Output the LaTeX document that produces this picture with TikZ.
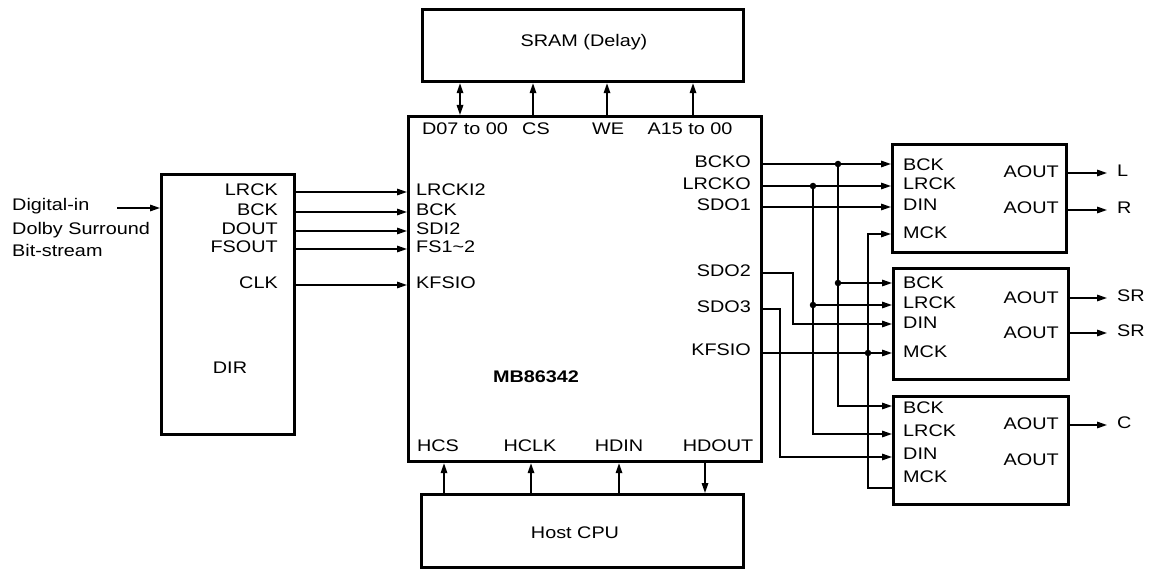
\documentclass[tikz,border=0pt]{standalone}
\usepackage{fontspec}
\setmainfont{Liberation Sans}[FakeStretch=1.18]
\usetikzlibrary{arrows.meta}
\newcommand\dgfont{\fontsize{16.8}{19}\selectfont}
\begin{document}
\begin{tikzpicture}[x=1pt,y=-1pt,
  lbl/.style={inner sep=0pt, text height=0.72em, text depth=0pt, font=\dgfont},
  lw/.style={lbl, anchor=west},
  le/.style={lbl, anchor=east},
  blk/.style={draw, line width=3.2pt, anchor=north west, inner sep=0pt},
  wire/.style={line width=1.6pt},
  arr/.style={wire, -{Triangle[length=10pt,width=6.5pt]}},
  darr/.style={wire, {Triangle[length=10pt,width=6.5pt]}-{Triangle[length=10pt,width=6.5pt]}},
  jdot/.style={circle, fill, inner sep=0pt, minimum size=6.5pt},
]
\useasboundingbox (0,0) rectangle (1153,569);

% blocks
\node[blk, minimum width=321pt, minimum height=72pt] (sram) at (421,8) {};
\node[blk, minimum width=353pt, minimum height=345pt] (main) at (407,115) {};
\node[blk, minimum width=322pt, minimum height=73pt] (host) at (420,493) {};
\node[blk, minimum width=133pt, minimum height=260pt] (dir) at (160,173) {};
\node[blk, minimum width=174pt, minimum height=108pt] (b1) at (891,143) {};
\node[blk, minimum width=175pt, minimum height=111pt] (b2) at (892,267) {};
\node[blk, minimum width=175pt, minimum height=108pt] (b3) at (892,395) {};

% block titles
\node[lbl] (sramt) at (584,43) {SRAM (Delay)};
\node[lbl] (hostt) at (575,535) {Host CPU};
\node[lbl] (dirt) at (230,370) {DIR};
\node[lbl, font=\dgfont\bfseries] (mbt) at (536,379) {MB86342};

% SRAM interface
\node[lbl] (pD) at (465,131) {D07 to 00};
\node[lbl] (pCS) at (536,131) {CS};
\node[lbl] (pWE) at (608,131) {WE};
\node[lbl] (pA) at (690,131) {A15 to 00};
\draw[darr] (main.north -| 460,0) -- (sram.south -| 460,0);
\draw[arr] (main.north -| 533,0) -- (sram.south -| 533,0);
\draw[arr] (main.north -| 607,0) -- (sram.south -| 607,0);
\draw[arr] (main.north -| 693,0) -- (sram.south -| 693,0);

% Host interface
\node[lbl] (hCS) at (438,448) {HCS};
\node[lbl] (hCL) at (530,448) {HCLK};
\node[lbl] (hDI) at (619,448) {HDIN};
\node[lbl] (hDO) at (718,448) {HDOUT};
\draw[arr] (host.north -| 444,0) -- (main.south -| 444,0);
\draw[arr] (host.north -| 531,0) -- (main.south -| 531,0);
\draw[arr] (host.north -| 619,0) -- (main.south -| 619,0);
\draw[arr] (main.south -| 705,0) -- (host.north -| 705,0);

% input
\node[lw] (t1) at (12,207) {Digital-in};
\node[lw] (t2) at (12,231) {Dolby Surround};
\node[lw] (t3) at (12,253) {Bit-stream};
\coordinate (src) at (117,208);
\draw[arr] (src) -- (dir.west |- src);

% DIR pins
\node[le] (dLR) at (278,192) {LRCK};
\node[le] (dBC) at (278,212) {BCK};
\node[le] (dDO) at (278,231) {DOUT};
\node[le] (dFS) at (278,249) {FSOUT};
\node[le] (dCL) at (278,285) {CLK};
% main left pins
\node[lw] (mLR) at (416,192) {LRCKI2};
\node[lw] (mBC) at (416,212) {BCK};
\node[lw] (mSD) at (416,231) {SDI2};
\node[lw] (mFS) at (416,249) {FS1\textasciitilde 2};
\node[lw] (mKF) at (416,285) {KFSIO};
\foreach \a in {dLR,dBC,dDO,dFS,dCL}
  \draw[arr] (dir.east |- \a) -- (main.west |- \a);

% main right pins
\node[le] (mBO) at (751,164) {BCKO};
\node[le] (mLO) at (751,186) {LRCKO};
\node[le] (mS1) at (751,207) {SDO1};
\node[le] (mS2) at (751,273) {SDO2};
\node[le] (mS3) at (751,309) {SDO3};
\node[le] (mKO) at (751,352) {KFSIO};

% DAC 1
\node[lw] (aBC) at (903,167) {BCK};
\node[lw] (aLR) at (903,186) {LRCK};
\node[lw] (aDI) at (903,207) {DIN};
\node[lw] (aMC) at (903,235) {MCK};
\node[le] (aO1) at (1059,174) {AOUT};
\node[le] (aO2) at (1059,210) {AOUT};
% DAC 2
\node[lw] (bBC) at (903,285) {BCK};
\node[lw] (bLR) at (903,305) {LRCK};
\node[lw] (bDI) at (903,325) {DIN};
\node[lw] (bMC) at (903,354) {MCK};
\node[le] (bO1) at (1059,300) {AOUT};
\node[le] (bO2) at (1059,335) {AOUT};
% DAC 3
\node[lw] (cBC) at (903,410) {BCK};
\node[lw] (cLR) at (903,433) {LRCK};
\node[lw] (cDI) at (903,456) {DIN};
\node[lw] (cMC) at (903,479) {MCK};
\node[le] (cO1) at (1059,426) {AOUT};
\node[le] (cO2) at (1059,462) {AOUT};

% outputs
\node[lw] (oL) at (1117,173) {L};
\node[lw] (oR) at (1117,210) {R};
\node[lw] (oS1) at (1117,298) {SR};
\node[lw] (oS2) at (1117,333) {SR};
\node[lw] (oC) at (1117,425) {C};
\draw[arr, shorten >=10pt] (b1.east |- oL) -- (oL.west);
\draw[arr, shorten >=10pt] (b1.east |- oR) -- (oR.west);
\draw[arr, shorten >=10pt] (b2.east |- oS1) -- (oS1.west);
\draw[arr, shorten >=10pt] (b2.east |- oS2) -- (oS2.west);
\draw[arr, shorten >=10pt] (b3.east |- oC) -- (oC.west);

% junctions
\node[jdot] (jb1) at (838,164) {};
\node[jdot] (jb2) at (838,283) {};
\node[jdot] (jl1) at (813,186) {};
\node[jdot] (jl2) at (813,305) {};
\node[jdot] (jm) at (868,353) {};

% right-side wiring
\draw[arr] (main.east |- mBO) -- (b1.west |- mBO);
\draw[arr] (main.east |- mLO) -- (b1.west |- mLO);
\draw[arr] (main.east |- mS1) -- (b1.west |- mS1);
\draw[arr] (jb1.center) |- (b3.west |- 0,406);
\draw[arr] (jb2.center) -- (b2.west |- jb2);
\draw[arr] (jl1.center) |- (b3.west |- 0,434);
\draw[arr] (jl2.center) -- (b2.west |- jl2);
\draw[arr] (main.east |- mS2) -| (793,324) -- (b2.west |- 0,324);
\draw[arr] (main.east |- mS3) -| (780,457) -- (b3.west |- 0,457);
\draw[arr] (main.east |- jm) -- (b2.west |- jm);
\draw[arr] (b3.west |- 0,488) -| (868,234) -- (b1.west |- 0,234);
\end{tikzpicture}
\end{document}
